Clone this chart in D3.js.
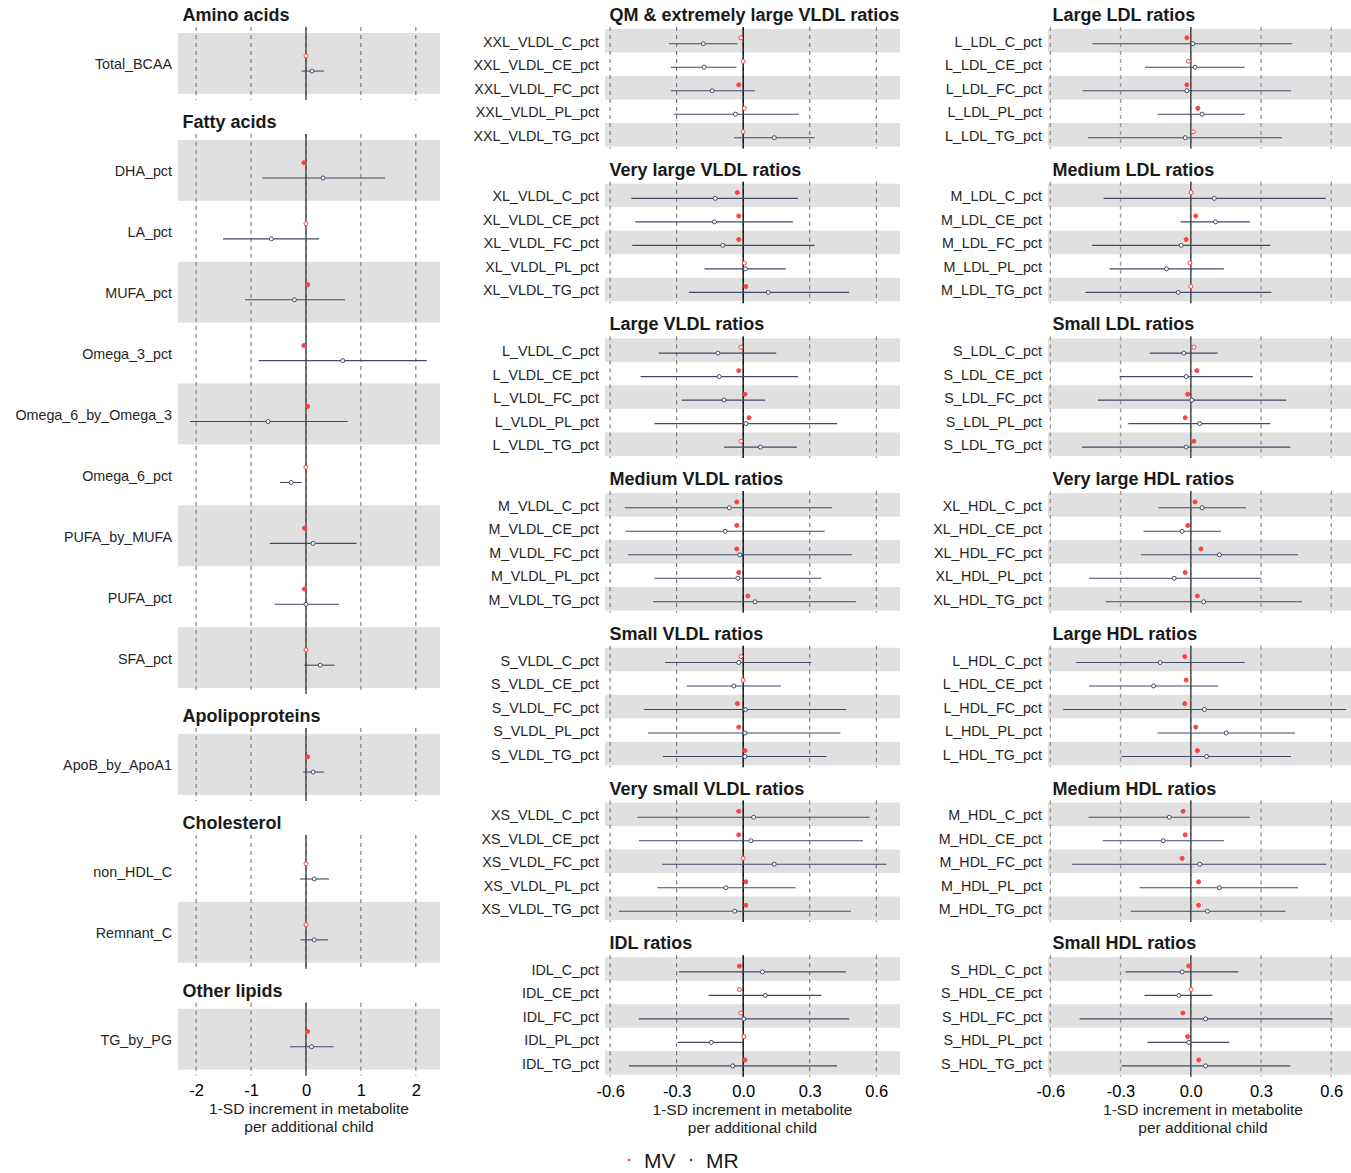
<!DOCTYPE html>
<html>
<head>
<meta charset="utf-8">
<script src="https://cdn.jsdelivr.net/npm/d3@7"></script>
<style>
  body { margin: 0; background: #fff; }
  svg { display: block; font-family: "Liberation Sans", Arial, sans-serif; }
</style>
</head>
<body>
<svg id="chart"></svg>
<script>
// panels, in drawing order; 0 = left column, 1 = middle, 2 = right
const panelTitles = [
  'Amino acids', 'Fatty acids', 'Apolipoproteins', 'Cholesterol', 'Other lipids',
  'QM & extremely large VLDL ratios', 'Very large VLDL ratios', 'Large VLDL ratios',
  'Medium VLDL ratios', 'Small VLDL ratios', 'Very small VLDL ratios', 'IDL ratios',
  'Large LDL ratios', 'Medium LDL ratios', 'Small LDL ratios', 'Very large HDL ratios',
  'Large HDL ratios', 'Medium HDL ratios', 'Small HDL ratios'
];
const panelColumn = [0, 0, 0, 0, 0, 1, 1, 1, 1, 1, 1, 1, 2, 2, 2, 2, 2, 2, 2];

const rowNames = [
  ['Total_BCAA'],
  ['DHA_pct', 'LA_pct', 'MUFA_pct', 'Omega_3_pct', 'Omega_6_by_Omega_3', 'Omega_6_pct', 'PUFA_by_MUFA', 'PUFA_pct', 'SFA_pct'],
  ['ApoB_by_ApoA1'],
  ['non_HDL_C', 'Remnant_C'],
  ['TG_by_PG'],
  ['XXL_VLDL_C_pct', 'XXL_VLDL_CE_pct', 'XXL_VLDL_FC_pct', 'XXL_VLDL_PL_pct', 'XXL_VLDL_TG_pct'],
  ['XL_VLDL_C_pct', 'XL_VLDL_CE_pct', 'XL_VLDL_FC_pct', 'XL_VLDL_PL_pct', 'XL_VLDL_TG_pct'],
  ['L_VLDL_C_pct', 'L_VLDL_CE_pct', 'L_VLDL_FC_pct', 'L_VLDL_PL_pct', 'L_VLDL_TG_pct'],
  ['M_VLDL_C_pct', 'M_VLDL_CE_pct', 'M_VLDL_FC_pct', 'M_VLDL_PL_pct', 'M_VLDL_TG_pct'],
  ['S_VLDL_C_pct', 'S_VLDL_CE_pct', 'S_VLDL_FC_pct', 'S_VLDL_PL_pct', 'S_VLDL_TG_pct'],
  ['XS_VLDL_C_pct', 'XS_VLDL_CE_pct', 'XS_VLDL_FC_pct', 'XS_VLDL_PL_pct', 'XS_VLDL_TG_pct'],
  ['IDL_C_pct', 'IDL_CE_pct', 'IDL_FC_pct', 'IDL_PL_pct', 'IDL_TG_pct'],
  ['L_LDL_C_pct', 'L_LDL_CE_pct', 'L_LDL_FC_pct', 'L_LDL_PL_pct', 'L_LDL_TG_pct'],
  ['M_LDL_C_pct', 'M_LDL_CE_pct', 'M_LDL_FC_pct', 'M_LDL_PL_pct', 'M_LDL_TG_pct'],
  ['S_LDL_C_pct', 'S_LDL_CE_pct', 'S_LDL_FC_pct', 'S_LDL_PL_pct', 'S_LDL_TG_pct'],
  ['XL_HDL_C_pct', 'XL_HDL_CE_pct', 'XL_HDL_FC_pct', 'XL_HDL_PL_pct', 'XL_HDL_TG_pct'],
  ['L_HDL_C_pct', 'L_HDL_CE_pct', 'L_HDL_FC_pct', 'L_HDL_PL_pct', 'L_HDL_TG_pct'],
  ['M_HDL_C_pct', 'M_HDL_CE_pct', 'M_HDL_FC_pct', 'M_HDL_PL_pct', 'M_HDL_TG_pct'],
  ['S_HDL_C_pct', 'S_HDL_CE_pct', 'S_HDL_FC_pct', 'S_HDL_PL_pct', 'S_HDL_TG_pct']
];

// MV estimate and whether it is drawn filled (1) or open (0)
const mvEst = [
  [0.0],
  [-0.04, 0.0, 0.03, -0.04, 0.03, 0.0, -0.03, -0.03, 0.0],
  [0.03],
  [0.0, 0.0],
  [0.03],
  [-0.01, 0.0, -0.02, 0.006, 0.0],
  [-0.026, -0.02, -0.02, 0.006, 0.012],
  [-0.01, -0.02, 0.008, 0.026, -0.01],
  [-0.029, -0.029, -0.029, -0.02, 0.021],
  [-0.01, 0.0, -0.026, -0.02, 0.008],
  [-0.02, -0.02, 0.0, 0.012, 0.012],
  [-0.017, -0.017, -0.01, 0.003, 0.008],
  [-0.017, -0.01, -0.017, 0.03, 0.01],
  [0.001, 0.021, -0.02, -0.004, 0.0],
  [0.013, 0.026, -0.013, -0.024, 0.013],
  [0.018, -0.013, 0.043, -0.024, 0.028],
  [-0.026, -0.02, -0.026, 0.021, 0.028],
  [-0.033, -0.024, -0.037, 0.033, 0.033],
  [-0.009, 0.001, -0.034, -0.014, 0.034]
];
const mvFilled = [
  [0],
  [1, 0, 1, 1, 1, 0, 1, 1, 0],
  [1],
  [0, 0],
  [1],
  [0, 0, 1, 0, 0],
  [1, 1, 1, 0, 1],
  [0, 1, 1, 1, 0],
  [1, 1, 1, 1, 1],
  [0, 0, 1, 1, 1],
  [1, 1, 0, 1, 1],
  [1, 0, 0, 0, 1],
  [1, 0, 1, 1, 0],
  [0, 1, 1, 0, 0],
  [0, 1, 1, 1, 1],
  [1, 1, 1, 1, 1],
  [1, 1, 1, 1, 1],
  [1, 1, 1, 1, 1],
  [1, 0, 1, 1, 1]
];

// MR estimate with its interval
const mrEst = [
  [0.11],
  [0.31, -0.63, -0.21, 0.67, -0.69, -0.27, 0.13, 0.0, 0.26],
  [0.13],
  [0.15, 0.15],
  [0.1],
  [-0.18, -0.176, -0.14, -0.035, 0.14],
  [-0.126, -0.13, -0.092, 0.01, 0.113],
  [-0.114, -0.108, -0.086, 0.012, 0.078],
  [-0.063, -0.081, -0.015, -0.024, 0.053],
  [-0.02, -0.042, 0.01, 0.008, 0.008],
  [0.047, 0.035, 0.14, -0.078, -0.038],
  [0.087, 0.1, 0.003, -0.144, -0.047],
  [0.009, 0.018, -0.017, 0.048, -0.024],
  [0.1, 0.105, -0.041, -0.104, -0.054],
  [-0.03, -0.02, 0.004, 0.038, -0.02],
  [0.048, -0.037, 0.122, -0.071, 0.055],
  [-0.131, -0.159, 0.058, 0.151, 0.067],
  [-0.092, -0.118, 0.038, 0.122, 0.071],
  [-0.037, -0.051, 0.063, -0.009, 0.063]
];
const mrLow = [
  [-0.08],
  [-0.79, -1.51, -1.11, -0.86, -2.11, -0.47, -0.66, -0.57, -0.03],
  [-0.05],
  [-0.11, -0.1],
  [-0.29],
  [-0.335, -0.326, -0.326, -0.313, -0.042],
  [-0.504, -0.486, -0.5, -0.174, -0.245],
  [-0.38, -0.463, -0.277, -0.4, -0.086],
  [-0.534, -0.531, -0.52, -0.4, -0.406],
  [-0.353, -0.254, -0.448, -0.429, -0.362],
  [-0.477, -0.47, -0.365, -0.388, -0.56],
  [-0.29, -0.156, -0.47, -0.295, -0.516],
  [-0.42, -0.196, -0.462, -0.142, -0.44],
  [-0.373, -0.044, -0.422, -0.347, -0.45],
  [-0.176, -0.304, -0.397, -0.267, -0.465],
  [-0.138, -0.202, -0.213, -0.435, -0.364],
  [-0.49, -0.435, -0.545, -0.142, -0.296],
  [-0.437, -0.377, -0.508, -0.219, -0.256],
  [-0.279, -0.198, -0.475, -0.185, -0.296]
];
const mrHigh = [
  [0.33],
  [1.44, 0.24, 0.71, 2.2, 0.76, -0.08, 0.92, 0.6, 0.52],
  [0.33],
  [0.42, 0.4],
  [0.5],
  [-0.026, -0.03, 0.053, 0.251, 0.322],
  [0.247, 0.224, 0.322, 0.192, 0.477],
  [0.149, 0.247, 0.099, 0.424, 0.242],
  [0.4, 0.367, 0.49, 0.352, 0.508],
  [0.307, 0.17, 0.465, 0.438, 0.376],
  [0.57, 0.54, 0.647, 0.236, 0.486],
  [0.463, 0.352, 0.477, 0.0, 0.423],
  [0.432, 0.23, 0.428, 0.23, 0.39],
  [0.576, 0.252, 0.34, 0.141, 0.344],
  [0.115, 0.265, 0.408, 0.34, 0.425],
  [0.235, 0.129, 0.458, 0.299, 0.475],
  [0.23, 0.117, 0.664, 0.445, 0.428],
  [0.252, 0.142, 0.579, 0.458, 0.404],
  [0.202, 0.092, 0.605, 0.164, 0.425]
];

const leftTicks = [-2, -1, 0, 1, 2];
const ratioTicks = [-0.6, -0.3, 0, 0.3, 0.6];
const axisTitle = ['1-SD increment in metabolite', 'per additional child'];
const legendKeys = ['MV', 'MR'];

const W = 1351, H = 1173;
const mvColor = '#ff4040';
const mrColor = '#414a66';
const bandColor = '#e0e0e0';

const svg = d3.select('#chart').attr('width', W).attr('height', H);

svg.append('defs').append('clipPath').attr('id', 'clip-mid')
  .append('rect').attr('x', 440).attr('y', 0).attr('width', 461).attr('height', H);

// column settings
const columns = [
  {
    x: d3.scaleLinear().domain([-2.33, 2.44]).range([178, 440]),
    ticks: leftTicks, fmt: (d) => d.toFixed(0),
    rowH: 60.9, pad: 6, gap: 34,
    zeroColor: '#444', zeroW: 1.4, gridColor: '#666', gridW: 1
  },
  {
    x: d3.scaleLinear().domain([-0.623, 0.707]).range([605, 900]),
    ticks: ratioTicks, fmt: (d) => d.toFixed(1),
    rowH: 23.5, pad: 2, gap: 33.2,
    zeroColor: '#000', zeroW: 1.3, gridColor: '#666', gridW: 1
  },
  {
    x: d3.scaleLinear().domain([-0.61, 0.714]).range([1048, 1358]),
    ticks: ratioTicks, fmt: (d) => d.toFixed(1),
    rowH: 23.5, pad: 2, gap: 33.2,
    zeroColor: '#555', zeroW: 1.6, gridColor: '#999', gridW: 1.4
  }
];

columns.forEach((col, ci) => {
  const g = svg.append('g');
  if (ci === 1) g.attr('clip-path', 'url(#clip-mid)');
  const x = col.x;
  const [x0, x1] = x.range();
  let top = 27;
  let lastBottom = 0;

  panelTitles.forEach((title, pi) => {
    if (panelColumn[pi] !== ci) return;
    const names = rowNames[pi];
    const n = names.length;
    const areaH = n * col.rowH + 2 * col.pad;
    const y = d3.scaleBand().domain(names).range([top + col.pad, top + col.pad + n * col.rowH]);
    const p = g.append('g');

    // alternate bands, counted from the bottom row
    p.selectAll('rect.band')
      .data(names.filter((d, i) => (n - 1 - i) % 2 === 0))
      .join('rect')
      .attr('x', x0).attr('width', x1 - x0)
      .attr('y', (d) => y(d)).attr('height', y.bandwidth())
      .attr('fill', bandColor);

    p.selectAll('line.grid')
      .data(col.ticks)
      .join('line')
      .attr('x1', (d) => x(d)).attr('x2', (d) => x(d))
      .attr('y1', top).attr('y2', top + areaH)
      .attr('stroke', col.gridColor).attr('stroke-width', col.gridW)
      .attr('stroke-dasharray', '4,4');

    p.append('line')
      .attr('x1', x(0)).attr('x2', x(0))
      .attr('y1', top).attr('y2', top + areaH)
      .attr('stroke', col.zeroColor).attr('stroke-width', col.zeroW);

    p.append('text')
      .attr('x', x0 + 4.5).attr('y', top - 6)
      .attr('font-size', 18).attr('font-weight', 'bold').attr('fill', '#1a1a1a')
      .text(title);

    // row labels
    p.selectAll('text.lab')
      .data(names)
      .join('text')
      .attr('x', x0 - 6).attr('y', (d) => y(d) + y.bandwidth() / 2 + 1)
      .attr('dy', '0.35em').attr('text-anchor', 'end')
      .attr('font-size', 14.3).attr('fill', '#262626')
      .text((d) => d);

    const off = col.rowH * 0.125;
    const rows = names.map((d, i) => ({
      name: d, mv: mvEst[pi][i], filled: mvFilled[pi][i],
      mr: mrEst[pi][i], lo: mrLow[pi][i], hi: mrHigh[pi][i],
      cy: y(d) + y.bandwidth() / 2
    }));

    p.selectAll('line.ci')
      .data(rows)
      .join('line')
      .attr('x1', (d) => x(d.lo)).attr('x2', (d) => x(d.hi))
      .attr('y1', (d) => d.cy + off).attr('y2', (d) => d.cy + off)
      .attr('stroke', mrColor).attr('stroke-width', 1.1);

    p.selectAll('circle.mr')
      .data(rows)
      .join('circle')
      .attr('cx', (d) => x(d.mr)).attr('cy', (d) => d.cy + off)
      .attr('r', 2).attr('fill', '#fff')
      .attr('stroke', mrColor).attr('stroke-width', 1);

    p.selectAll('circle.mv')
      .data(rows)
      .join('circle')
      .attr('cx', (d) => x(d.mv)).attr('cy', (d) => d.cy - off)
      .attr('r', 2).attr('fill', (d) => (d.filled ? mvColor : '#fff'))
      .attr('stroke', mvColor).attr('stroke-width', 1);

    lastBottom = top + areaH;
    top += areaH + col.gap;
  });

  // x axis under the last panel of the column
  const ax = g.append('g')
    .attr('transform', `translate(0,${lastBottom})`)
    .call(d3.axisBottom(x).tickValues(col.ticks).tickFormat(col.fmt).tickSize(0).tickPadding(9));
  ax.select('.domain').remove();
  ax.selectAll('text')
    .attr('font-size', 16.5).attr('fill', '#000')
    .attr('font-family', '"Liberation Sans", Arial, sans-serif');

  const cx = (x0 + x1) / 2;
  g.selectAll('text.axt')
    .data(axisTitle)
    .join('text')
    .attr('x', cx).attr('y', (d, i) => lastBottom + 38.5 + i * 18)
    .attr('text-anchor', 'middle').attr('font-size', 15.5).attr('fill', '#222')
    .text((d) => d);
});

// legend
const legend = svg.append('g').attr('transform', 'translate(629,1160)');
const legItems = legend.selectAll('g')
  .data(legendKeys)
  .join('g')
  .attr('transform', (d, i) => `translate(${i * 62},0)`);
legItems.append('circle')
  .attr('r', 1.3)
  .attr('fill', (d, i) => (i === 0 ? mvColor : mrColor));
legItems.append('text')
  .attr('x', 15).attr('y', 0).attr('dy', '0.36em')
  .attr('font-size', 21).attr('fill', '#1a1a1a')
  .text((d) => d);
</script>
</body>
</html>
